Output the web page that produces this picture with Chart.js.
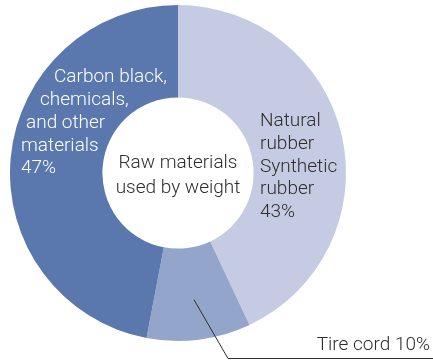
<!DOCTYPE html>
<html>
<head>
<meta charset="utf-8">
<script src="https://cdn.jsdelivr.net/npm/chart.js@4/dist/chart.umd.min.js"></script>
<style>
  html, body { margin: 0; padding: 0; background: #ffffff; }
  #wrap { position: relative; width: 433px; height: 360px; }
</style>
</head>
<body>
<div id="wrap"><canvas id="c" width="433" height="360"></canvas></div>
<script>
// Raw materials used in a tire, share by weight (%)
const categories = ['Natural rubber / Synthetic rubber', 'Tire cord', 'Carbon black, chemicals, and other materials'];
const shares = [43, 10, 47];
const sliceColors = ['#c5cbe2', '#94a5cb', '#5a78ae'];

const centerLines = ['Raw materials', 'used by weight'];
const rubberLines = ['Natural', 'rubber', 'Synthetic', 'rubber', '43%'];
const carbonLines = ['Carbon black,', 'chemicals,', 'and other', 'materials', '47%'];
const cordLabel = 'Tire cord 10%';

const FONT = '300 19px Roboto, "Liberation Sans", Arial, sans-serif';

const labelPlugin = {
  id: 'sliceLabels',
  afterDraw(chart) {
    const ctx = chart.ctx;
    const meta = chart.getDatasetMeta(0);
    const first = meta.data[0];
    const cx = first.x, cy = first.y;

    ctx.save();
    ctx.font = FONT;
    ctx.textBaseline = 'middle';

    // centre caption
    ctx.fillStyle = '#2e2e2e';
    ctx.textAlign = 'center';
    ctx.fillText(centerLines[0], cx, cy - 10);
    ctx.fillText(centerLines[1], cx, cy + 15);

    // rubber slice label
    ctx.textAlign = 'left';
    const rubberY = [-52, -29, -6, 16, 39];
    rubberLines.forEach((t, i) => ctx.fillText(t, cx + 82, cy + rubberY[i]));

    // carbon black slice label, lines follow the ring's curve
    ctx.fillStyle = '#ffffff';
    const carbonX = [-124, -138, -152, -157, -157];
    const carbonY = [-96, -73, -50, -27, -5];
    carbonLines.forEach((t, i) => ctx.fillText(t, cx + carbonX[i], cy + carbonY[i]));

    // tire cord leader line from the middle of its slice
    const cord = meta.data[1];
    const mid = (cord.startAngle + cord.endAngle) / 2;
    const rr = (cord.innerRadius + cord.outerRadius) / 2 + 6;
    const sx = cx + Math.cos(mid) * rr;
    const sy = cy + Math.sin(mid) * rr;
    const ky = cy + 185;
    ctx.strokeStyle = '#2e2e2e';
    ctx.lineWidth = 1;
    ctx.beginPath();
    ctx.moveTo(sx, sy);
    ctx.lineTo(cx + 50, ky + 0.5);
    ctx.lineTo(chart.width, ky + 0.5);
    ctx.stroke();

    ctx.fillStyle = '#2e2e2e';
    ctx.textAlign = 'right';
    ctx.fillText(cordLabel, chart.width - 3, cy + 172);
    ctx.restore();
  }
};

new Chart(document.getElementById('c'), {
  type: 'doughnut',
  data: {
    labels: categories,
    datasets: [{
      data: shares,
      backgroundColor: sliceColors,
      borderWidth: 0,
      hoverOffset: 0
    }]
  },
  options: {
    responsive: false,
    animation: false,
    cutout: '45%',
    layout: { padding: { left: 10, right: 87, top: 5, bottom: 19 } },
    plugins: {
      legend: { display: false },
      tooltip: { enabled: false }
    }
  },
  plugins: [labelPlugin]
});
</script>
</body>
</html>
